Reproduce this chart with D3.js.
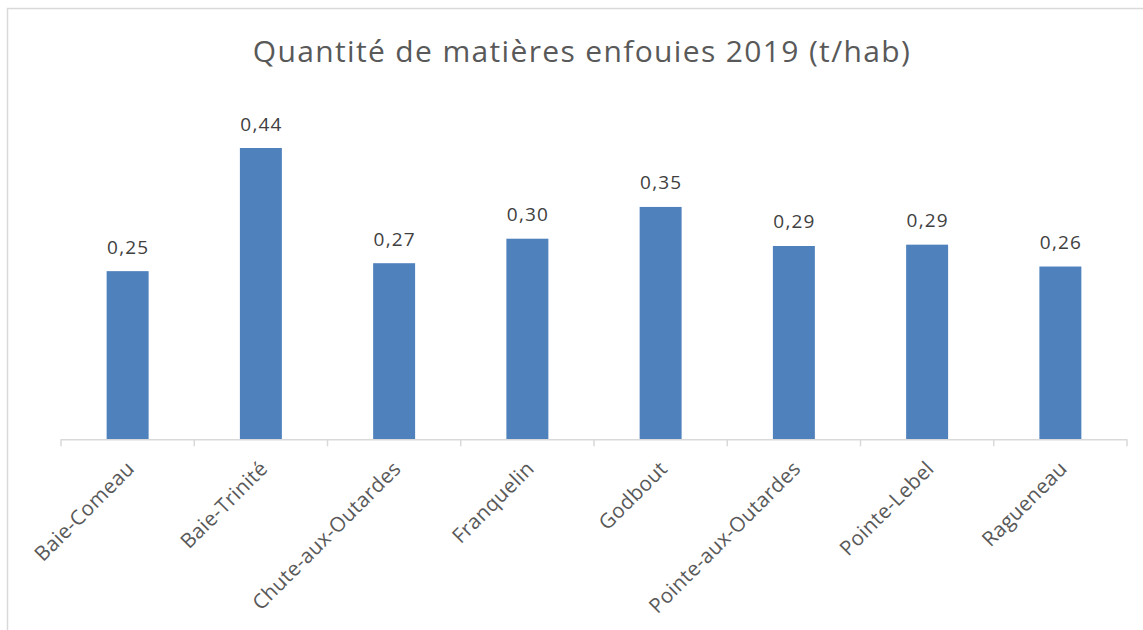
<!DOCTYPE html>
<html>
<head>
<meta charset="utf-8">
<script src="https://cdn.jsdelivr.net/npm/d3@7"></script>
<style>
    body { margin: 0; background: #ffffff; }
    .font { font-family: "Open Sans", "Noto Sans", sans-serif; }
    .title { font-size: 30px; fill: #595959; letter-spacing: 1.35px; }
    .value-label { font-size: 19px; fill: #404040; letter-spacing: 1.2px; }
    .category-label { font-size: 20.5px; fill: #595959; letter-spacing: 0.3px; }
</style>
</head>
<body>
<svg id="chart" width="1143" height="630"></svg>
<script>
const SVG_WIDTH = 1143;
const SVG_HEIGHT = 630;
const PLOT_TITLE_TXT = "Quantité de matières enfouies 2019 (t/hab)";

// categories and values (t/hab)
const CATEGORIES = ["Baie-Comeau", "Baie-Trinité", "Chute-aux-Outardes", "Franquelin",
                    "Godbout", "Pointe-aux-Outardes", "Pointe-Lebel", "Ragueneau"];
const VALUES = [0.254, 0.44, 0.266, 0.303, 0.351, 0.292, 0.294, 0.261];
const Y_DOMAIN = [0, 0.5];

const PLOT_LEFT = 61;
const PLOT_RIGHT = 1127;
const PLOT_BOTTOM = 439.3;
const PLOT_TOP = 108.3;
const BAR_COLOR = "#4f81bd";
const AXIS_COLOR = "#d9d9d9";

var svg = d3.select("#chart");

// chart border (right and bottom edges fall outside the picture)
svg.append("rect")
    .attr("x", 7.5)
    .attr("y", 8.5)
    .attr("width", SVG_WIDTH + 20)
    .attr("height", SVG_HEIGHT + 20)
    .attr("fill", "none")
    .attr("stroke", AXIS_COLOR)
    .attr("stroke-width", 1.5);

svg.append("text")
    .attr("x", 582)
    .attr("y", 62)
    .attr("text-anchor", "middle")
    .text(PLOT_TITLE_TXT)
    .classed("title font", true);

var xScale = d3.scaleBand()
    .domain(CATEGORIES)
    .range([PLOT_LEFT, PLOT_RIGHT])
    .paddingInner(0.685)
    .paddingOuter(0.3425);

var yScale = d3.scaleLinear()
    .domain(Y_DOMAIN)
    .range([PLOT_BOTTOM, PLOT_TOP]);

var data = CATEGORIES.map(function(c, i) {
    return {label: c, value: VALUES[i]};
});

svg.append("g")
    .selectAll("rect")
    .data(data)
    .enter()
    .append("rect")
    .attr("x", function(d) { return xScale(d.label); })
    .attr("width", xScale.bandwidth())
    .attr("y", function(d) { return yScale(d.value); })
    .attr("height", function(d) { return PLOT_BOTTOM - yScale(d.value); })
    .attr("fill", BAR_COLOR);

svg.append("g")
    .selectAll("text")
    .data(data)
    .enter()
    .append("text")
    .attr("x", function(d) { return xScale(d.label) + xScale.bandwidth() / 2 + 0.6; })
    .attr("y", function(d) { return yScale(d.value) - 17.5; })
    .attr("text-anchor", "middle")
    .text(function(d) { return d.value.toFixed(2).replace(".", ","); })
    .classed("value-label font", true);

// category axis: baseline plus tick marks between categories
var step = xScale.step();
var axis = svg.append("g")
    .attr("stroke", AXIS_COLOR)
    .attr("stroke-width", 1.5);
axis.append("line")
    .attr("x1", PLOT_LEFT)
    .attr("x2", PLOT_RIGHT)
    .attr("y1", PLOT_BOTTOM + 0.5)
    .attr("y2", PLOT_BOTTOM + 0.5);
axis.selectAll("tick")
    .data(d3.range(CATEGORIES.length + 1))
    .enter()
    .append("line")
    .attr("x1", function(i) { return PLOT_LEFT + i * step; })
    .attr("x2", function(i) { return PLOT_LEFT + i * step; })
    .attr("y1", PLOT_BOTTOM)
    .attr("y2", PLOT_BOTTOM + 7);

svg.append("g")
    .selectAll("text")
    .data(CATEGORIES)
    .enter()
    .append("text")
    .attr("transform", function(d) {
        var cx = xScale(d) + xScale.bandwidth() / 2;
        return "translate(" + (cx + 8) + ",470) rotate(-45)";
    })
    .attr("text-anchor", "end")
    .text(function(d) { return d; })
    .classed("category-label font", true);
</script>
</body>
</html>
